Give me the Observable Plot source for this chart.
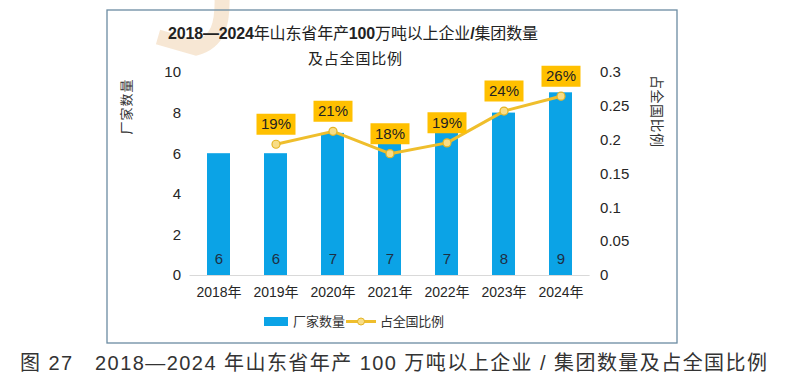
<!DOCTYPE html>
<html>
<head>
<meta charset="utf-8">
<script src="https://cdn.jsdelivr.net/npm/d3@7"></script>
<script src="https://cdn.jsdelivr.net/npm/@observablehq/plot@0.6"></script>
<style>
  html, body { margin: 0; padding: 0; background: #fff; }
  #wrap { position: relative; width: 785px; height: 381px; overflow: hidden; background: #fff; }
  #wrap svg { position: absolute; left: 0; top: 0; }
</style>
</head>
<body>
<div id="wrap"></div>
<script>
// ---- data ----
const years = ["2018年", "2019年", "2020年", "2021年", "2022年", "2023年", "2024年"];
const plantCounts = [6, 6, 7, 7, 7, 8, 9];
const countLabels = ["6", "6", "7", "7", "7", "8", "9"];
const shareValues = [null, 0.194, 0.213, 0.18, 0.196, 0.243, 0.265];
const shareLabels = ["", "19%", "21%", "18%", "19%", "24%", "26%"];
const leftTicks = [0, 2, 4, 6, 8, 10];
const leftTickLabels = ["0", "2", "4", "6", "8", "10"];
const rightTicks = [0, 0.05, 0.1, 0.15, 0.2, 0.25, 0.3];
const rightTickLabels = ["0", "0.05", "0.1", "0.15", "0.2", "0.25", "0.3"];
const countMax = 10;
const shareMax = 0.3;

const k = countMax / shareMax;
const rows = years.map((y, i) => ({year: y, count: plantCounts[i], label: countLabels[i]}));
const shareRows = years.map((y, i) => ({year: y, share: shareValues[i], label: shareLabels[i]}))
  .filter(d => d.share != null);

const barColor = "#0BA3E6";
const lineColor = "#EFBE2C";
const boxColor = "#FFC000";
const font = "'Liberation Sans', 'Noto Sans CJK SC', sans-serif";

const boxSymbol = {draw(ctx) { ctx.rect(-19.5, -10.5, 39, 21); }};

const wrap = document.getElementById("wrap");

// background watermark
const bg = d3.create("svg").attr("width", 785).attr("height", 381);
bg.append("path")
  .attr("d", "M 222 -5 C 223 25, 218 42, 196 48 L 158 37")
  .attr("fill", "none").attr("stroke", "#F4DFC6").attr("stroke-width", 15).attr("opacity", 0.75);
wrap.appendChild(bg.node());

const chart = Plot.plot({
  width: 785,
  height: 381,
  marginLeft: 189.5,
  marginRight: 195.4,
  marginTop: 72,
  marginBottom: 106,
  style: {background: "transparent", fontFamily: font, fontSize: "15px", color: "#262626"},
  x: {type: "band", domain: years, paddingInner: 0.6, paddingOuter: 0.3},
  y: {domain: [0, countMax]},
  marks: [
    Plot.barY(rows, {x: "year", y: "count", fill: barColor}),
    Plot.ruleY([0], {stroke: "#D9D9D9", strokeWidth: 1}),
    Plot.axisY(leftTicks, {anchor: "left", tickSize: 0, tickPadding: 9, fontSize: 15,
      tickFormat: d => leftTickLabels[leftTicks.indexOf(d)], label: null}),
    Plot.axisY(rightTicks.map(v => v * k), {anchor: "right", tickSize: 0, tickPadding: 10, fontSize: 15,
      tickFormat: d => rightTickLabels[rightTicks.findIndex(v => Math.abs(v * k - d) < 1e-6)], label: null}),
    Plot.axisX({tickSize: 0, tickPadding: 12, fontSize: 14, label: null}),
    Plot.text(rows, {x: "year", y: 0, text: "label", dy: -16, fill: "#1E2F44", fontSize: 15}),
    Plot.line(shareRows, {x: "year", y: d => d.share * k, stroke: lineColor, strokeWidth: 3}),
    Plot.dot(shareRows, {x: "year", y: d => d.share * k, r: 4, fill: "#F8DD86", stroke: "#E4B425", strokeWidth: 1.2}),
    Plot.dot(shareRows, {x: "year", y: d => d.share * k, symbol: boxSymbol, r: 5, fill: boxColor, stroke: "none", dy: -20}),
    Plot.text(shareRows, {x: "year", y: d => d.share * k, text: "label", dy: -20, fill: "#222", fontSize: 15})
  ]
});
wrap.appendChild(chart);

// overlay: frame, title, axis titles, legend, caption
const ov = d3.create("svg").attr("width", 785).attr("height", 381).style("pointer-events", "none");
ov.append("rect").attr("x", 107).attr("y", 10).attr("width", 570).attr("height", 333)
  .attr("fill", "none").attr("stroke", "#6B8BA2").attr("stroke-width", 1.3);

const t1 = ov.append("text").attr("x", 353).attr("y", 39).attr("text-anchor", "middle")
  .attr("font-size", 16).attr("fill", "#222").attr("font-family", font)
  .attr("textLength", 370).attr("lengthAdjust", "spacing");
const parts = [["2018—2024", true], ["年山东省年产", false], ["100", true], ["万吨以上企业", false], ["/", true], ["集团数量", false]];
parts.forEach(([s, b]) => t1.append("tspan").attr("font-weight", b ? "bold" : "normal").text(s));
ov.append("text").attr("x", 355).attr("y", 64).attr("text-anchor", "middle")
  .attr("font-size", 15).attr("fill", "#222").attr("font-family", font)
  .attr("textLength", 94).attr("lengthAdjust", "spacing").text("及占全国比例");

ov.append("text").attr("transform", "translate(131,107) rotate(-90)").attr("text-anchor", "middle")
  .attr("font-size", 13).attr("fill", "#333").attr("font-family", font)
  .attr("textLength", 55).attr("lengthAdjust", "spacing").text("厂家数量");
ov.append("text").attr("transform", "translate(652,111) rotate(90)").attr("text-anchor", "middle")
  .attr("font-size", 14).attr("fill", "#333").attr("font-family", font)
  .attr("textLength", 72).attr("lengthAdjust", "spacing").text("占全国比例");

// legend
ov.append("rect").attr("x", 264).attr("y", 317).attr("width", 24).attr("height", 9).attr("fill", barColor);
ov.append("text").attr("x", 293).attr("y", 326).attr("font-size", 13).attr("fill", "#333").attr("font-family", font)
  .attr("textLength", 52).attr("lengthAdjust", "spacing").text("厂家数量");
ov.append("line").attr("x1", 346).attr("x2", 376).attr("y1", 321.5).attr("y2", 321.5)
  .attr("stroke", lineColor).attr("stroke-width", 3);
ov.append("circle").attr("cx", 361).attr("cy", 321.5).attr("r", 3.5).attr("fill", "#F8DD86").attr("stroke", "#E4B425");
ov.append("text").attr("x", 380).attr("y", 326).attr("font-size", 13).attr("fill", "#333").attr("font-family", font)
  .attr("textLength", 64).attr("lengthAdjust", "spacing").text("占全国比例");

// caption
ov.append("text").attr("x", 20).attr("y", 370).attr("font-size", 20).attr("fill", "#333").attr("font-family", font)
  .attr("textLength", 747).attr("lengthAdjust", "spacing")
  .text("图 27　2018—2024 年山东省年产 100 万吨以上企业 / 集团数量及占全国比例");
wrap.appendChild(ov.node());
</script>
</body>
</html>
